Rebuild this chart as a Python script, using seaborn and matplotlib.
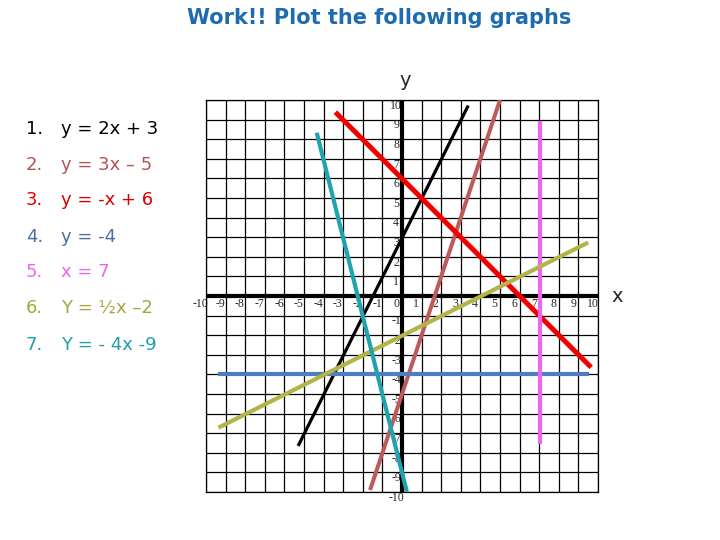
import matplotlib
matplotlib.use("Agg")
import matplotlib.pyplot as plt
import seaborn as sns
import pandas as pd

# ---- data (line endpoints) ----
labels = ["y = 2x + 3", "y = 3x – 5", "y = -x + 6", "y = -4", "x = 7",
          "Y = ½x –2", "Y = - 4x -9"]
numbers = ["1.", "2.", "3.", "4.", "5.", "6.", "7."]
x_start = [-5.3, -1.63, -3.4, -9.37, 7.04, -9.37, -4.35]
x_end = [3.38, 5.0, 9.65, 9.56, 7.04, 9.5, 0.25]
y_start = [-7.65, -9.9, 9.38, -4.0, 8.93, -6.72, 8.33]
y_end = [9.72, 10.0, -3.64, -4.0, -7.57, 2.73, -10.0]
line_colors = ["#000000", "#BE5A5A", "#F20000", "#4F7DBD", "#EE66EE",
               "#B3B34A", "#1FA3AE"]
text_colors = ["#000000", "#B45555", "#DD0000", "#4F6FA0", "#EE66EE",
               "#A6A640", "#1FA0A8"]
line_widths = [2.3, 2.9, 3.6, 3.0, 3.0, 3.0, 3.0]
tick_values = list(range(-10, 11))

sns.set_style("white")
plt.rcParams["font.family"] = ["DejaVu Sans"]

fig = plt.figure(figsize=(7.2, 5.4), dpi=100)
ax = fig.add_axes([206 / 720, 48 / 540, 392 / 720, 392 / 540])
ax.set_xlim(-10, 10)
ax.set_ylim(-10, 10)
ax.set_xticks(tick_values)
ax.set_yticks(tick_values)
ax.tick_params(length=0, labelbottom=False, labelleft=False)
ax.grid(True, color="black", linewidth=0.9)
for s in ax.spines.values():
    s.set_color("black")
    s.set_linewidth(0.9)
ax.axhline(0, color="black", linewidth=3.0, zorder=2)
ax.axvline(0, color="black", linewidth=3.0, zorder=2)

# tick labels placed like the slide
for v in tick_values:
    if v == 0:
        continue
    ax.text(v - 0.27, -0.4, str(v), fontsize=8.5, family="Liberation Serif",
            ha="center", va="center", zorder=1, clip_on=False)
    ax.text(-0.3, v - 0.3, str(v), fontsize=8.5, family="Liberation Serif",
            ha="center", va="center", zorder=1, clip_on=False)
ax.text(-0.3, -0.4, "0", fontsize=8.5, family="Liberation Serif",
        ha="center", va="center", zorder=1)

for i in range(len(labels)):
    df = pd.DataFrame({"x": [x_start[i], x_end[i]], "y": [y_start[i], y_end[i]]})
    sns.lineplot(data=df, x="x", y="y", sort=False, estimator=None,
                 color=line_colors[i], linewidth=line_widths[i], ax=ax,
                 zorder=5, solid_capstyle="butt")
ax.set_xlabel("")
ax.set_ylabel("")

# title and axis letters
fig.text(379 / 720, 1 - 18 / 540, "Work!! Plot the following graphs",
         fontsize=15, fontweight="bold", color="#1F6BB0", ha="center",
         va="center")
fig.text(405 / 720, 1 - 80 / 540, "y", fontsize=14, ha="center", va="center")
fig.text(617 / 720, 1 - 297 / 540, "x", fontsize=14, ha="center", va="center")

# equations list
eq_y = [129, 165, 200, 237, 272, 308, 345]
for i in range(len(labels)):
    fig.text(26 / 720, 1 - eq_y[i] / 540, numbers[i], fontsize=13,
             color=text_colors[i], ha="left", va="center")
    fig.text(61 / 720, 1 - eq_y[i] / 540, labels[i], fontsize=13,
             color=text_colors[i], ha="left", va="center")

fig.savefig("out.png", dpi=100)
